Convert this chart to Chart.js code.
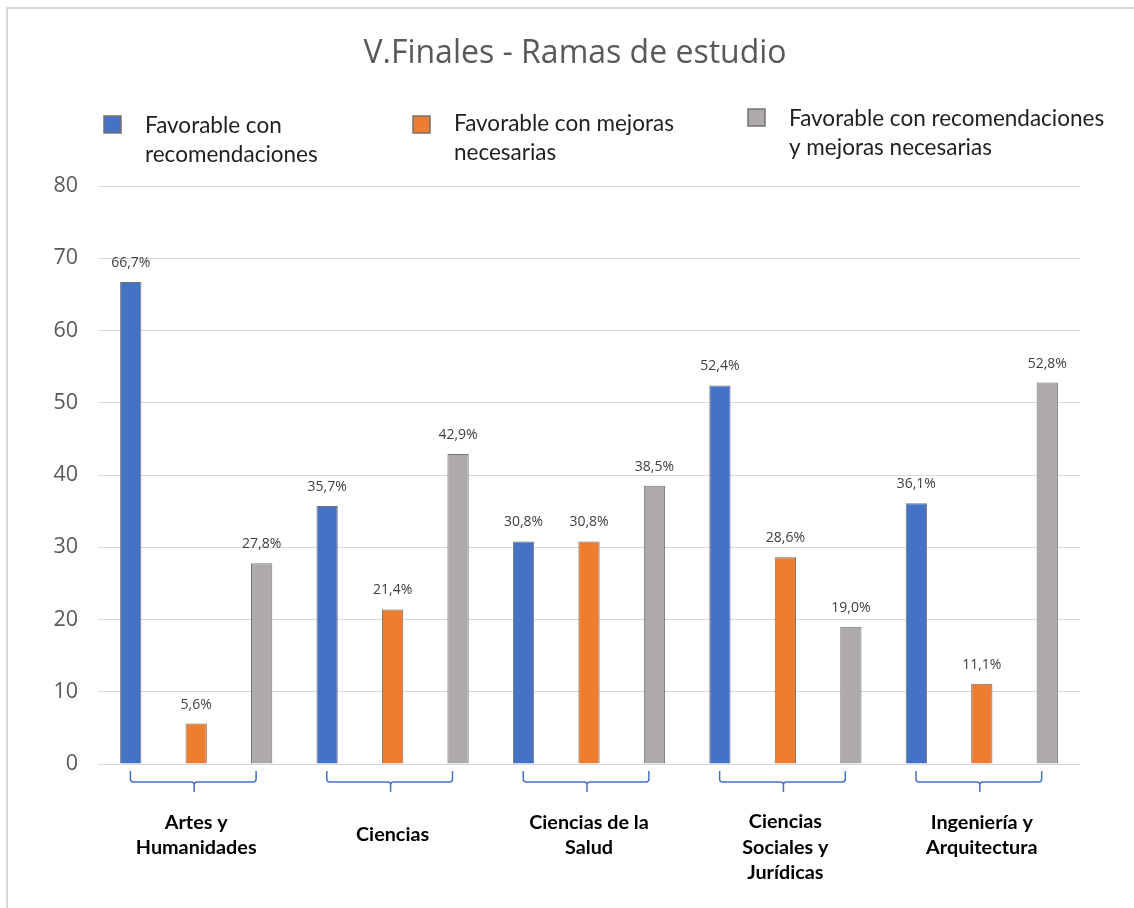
<!DOCTYPE html>
<html>
<head>
<meta charset="utf-8">
<script src="https://cdn.jsdelivr.net/npm/chart.js@4/dist/chart.umd.min.js"></script>
<style>
  html, body { margin: 0; padding: 0; background: #ffffff; }
  #wrap { width: 1134px; height: 908px; position: relative; }
</style>
</head>
<body>
<div id="wrap"><canvas id="c" width="1134" height="908"></canvas></div>
<script>
// Ramas de estudio (etiquetas del eje, en líneas)
const categories = [
  ['Artes y', 'Humanidades'],
  ['Ciencias'],
  ['Ciencias de la', 'Salud'],
  ['Ciencias', 'Sociales y', 'Jurídicas'],
  ['Ingeniería y', 'Arquitectura']
];

// Porcentajes por tipo de valoración final
const favorableRecomendaciones = [66.7, 35.7, 30.8, 52.4, 36.1];
const favorableMejoras = [5.6, 21.4, 30.8, 28.6, 11.1];
const favorableAmbas = [27.8, 42.9, 38.5, 19.0, 52.8];

const seriesNames = [
  'Favorable con recomendaciones',
  'Favorable con mejoras necesarias',
  'Favorable con recomendaciones y mejoras necesarias'
];
// Cortes de línea de la leyenda
const seriesNameLines = [
  ['Favorable con', 'recomendaciones'],
  ['Favorable con mejoras', 'necesarias'],
  ['Favorable con recomendaciones', 'y mejoras necesarias']
];

const yTicks = [0, 10, 20, 30, 40, 50, 60, 70, 80];

const COLORS = ['#4472C4', '#ED7D31', '#AEAAAA'];
const BAR_BORDER = '#767171';
const TEXT_GREY = '#595959';

// Marco exterior, título y leyenda
const framePlugin = {
  id: 'frame',
  beforeDraw(chart) {
    const ctx = chart.ctx;
    ctx.save();
    ctx.fillStyle = '#ffffff';
    ctx.fillRect(0, 0, chart.width, chart.height);
    ctx.strokeStyle = '#d9d9d9';
    ctx.lineWidth = 2;
    ctx.strokeRect(7, 8, chart.width + 20, chart.height + 20);
    ctx.restore();
  },
  afterDraw(chart) {
    const ctx = chart.ctx;
    ctx.save();
    // Título
    ctx.fillStyle = TEXT_GREY;
    ctx.font = '32px "Open Sans", sans-serif';
    ctx.textAlign = 'center';
    ctx.textBaseline = 'middle';
    ctx.fillText('V.Finales - Ramas de estudio', 575, 54);

    // Leyenda
    const items = [
      { x: 104, y: 116, ty: 126 },
      { x: 413, y: 116, ty: 124 },
      { x: 748, y: 109, ty: 119 }
    ];
    ctx.font = '22.5px Lato, sans-serif';
    ctx.textAlign = 'left';
    chart.data.datasets.forEach((ds, i) => {
      const it = items[i];
      ctx.fillStyle = ds.backgroundColor;
      ctx.fillRect(it.x, it.y, 17, 17);
      ctx.strokeStyle = BAR_BORDER;
      ctx.lineWidth = 1.5;
      ctx.strokeRect(it.x, it.y, 17, 17);
      ctx.fillStyle = '#1f1f1f';
      seriesNameLines[i].forEach((line, k) => {
        ctx.fillText(line, it.x + 41, it.ty + k * 28.5);
      });
    });
    ctx.restore();
  }
};

// Valores sobre las barras
const valueLabelPlugin = {
  id: 'valueLabels',
  afterDatasetsDraw(chart) {
    const ctx = chart.ctx;
    ctx.save();
    ctx.font = '14px "Open Sans", sans-serif';
    ctx.fillStyle = '#404040';
    ctx.textAlign = 'center';
    ctx.textBaseline = 'middle';
    chart.data.datasets.forEach((ds, i) => {
      chart.getDatasetMeta(i).data.forEach((bar, j) => {
        const txt = ds.data[j].toFixed(1).replace('.', ',') + '%';
        ctx.fillText(txt, bar.x, bar.y - 19);
      });
    });
    ctx.restore();
  }
};

// Llaves y etiquetas de categoría bajo el eje
const categoryAxisPlugin = {
  id: 'categoryAxis',
  afterDraw(chart) {
    const ctx = chart.ctx;
    const xs = chart.scales.x;
    const bottom = chart.chartArea.bottom;
    ctx.save();
    categories.forEach((lines, i) => {
      const c = xs.getPixelForValue(i);
      const w = xs.getPixelForValue(1) - xs.getPixelForValue(0);
      const l = c - 0.335 * w;
      const r = c + 0.305 * w;
      const m = c - 2;
      const top = bottom + 7;
      const mid = bottom + 18;
      const tip = bottom + 28;
      const rad = 3;
      ctx.strokeStyle = '#4472C4';
      ctx.lineWidth = 1.5;
      ctx.beginPath();
      ctx.moveTo(l, top);
      ctx.lineTo(l, mid - rad);
      ctx.quadraticCurveTo(l, mid, l + rad, mid);
      ctx.lineTo(m - rad, mid);
      ctx.quadraticCurveTo(m, mid, m, mid + rad);
      ctx.lineTo(m, tip);
      ctx.moveTo(m, mid + rad);
      ctx.quadraticCurveTo(m, mid, m + rad, mid);
      ctx.lineTo(r - rad, mid);
      ctx.quadraticCurveTo(r, mid, r, mid - rad);
      ctx.lineTo(r, top);
      ctx.stroke();

      ctx.fillStyle = '#000000';
      ctx.font = 'bold 19.8px Lato, sans-serif';
      ctx.textAlign = 'center';
      ctx.textBaseline = 'middle';
      const lh = 25.5;
      const first = Math.max(bottom + 58, bottom + 71 - (lines.length - 1) * lh / 2);
      lines.forEach((t, k) => ctx.fillText(t, c, first + k * lh));
    });
    ctx.restore();
  }
};

const makeSet = (i, data) => ({
  label: seriesNames[i],
  data: data,
  backgroundColor: COLORS[i],
  borderColor: BAR_BORDER,
  borderWidth: 1,
  categoryPercentage: 1.0,
  barPercentage: 0.325
});

new Chart(document.getElementById('c'), {
  type: 'bar',
  data: {
    labels: categories.map(l => l.join(' ')),
    datasets: [
      makeSet(0, favorableRecomendaciones),
      makeSet(1, favorableMejoras),
      makeSet(2, favorableAmbas)
    ]
  },
  options: {
    responsive: false,
    animation: false,
    devicePixelRatio: 1,
    layout: { padding: { left: 8, right: 54, top: 186, bottom: 144 } },
    plugins: {
      legend: { display: false },
      title: { display: false },
      tooltip: { enabled: false }
    },
    scales: {
      x: { display: false },
      y: {
        min: 0,
        max: 80,
        afterFit(s) { s.width = 90; },
        afterBuildTicks(s) { s.ticks = yTicks.map(v => ({ value: v })); },
        ticks: {
          color: TEXT_GREY,
          font: { family: '"Open Sans", sans-serif', size: 21.5 },
          padding: 20
        },
        grid: { color: '#d9d9d9', lineWidth: 1, drawTicks: false },
        border: { display: false }
      }
    }
  },
  plugins: [framePlugin, valueLabelPlugin, categoryAxisPlugin]
});
</script>
</body>
</html>
